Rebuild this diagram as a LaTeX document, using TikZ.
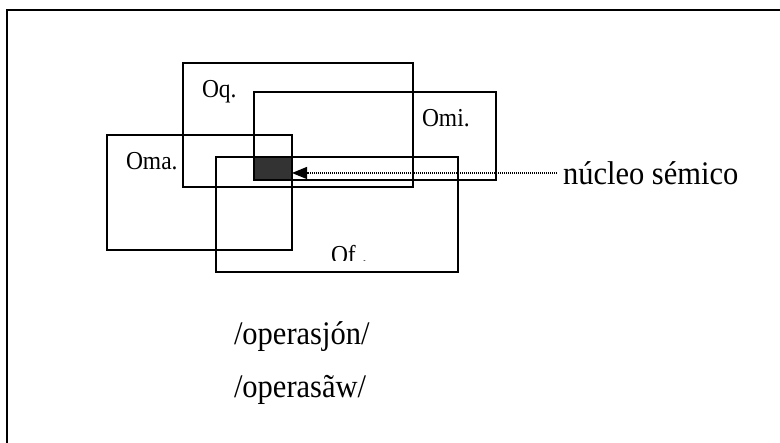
\documentclass[tikz,border=0pt]{standalone}
\usepackage{fontspec}
\setmainfont{Liberation Serif}
\usetikzlibrary{arrows.meta}
\begin{document}
\begin{tikzpicture}[x=1pt,y=-1pt,inner sep=0pt,outer sep=0pt,line width=1.6pt,
semblock/.style={draw,rectangle,inner sep=0pt},
semlabel/.style={anchor=base west,yscale=1.1,font=\fontsize{23.5}{28}\selectfont},
bigtext/.style={yscale=1.08,font=\fontsize{30.5}{36}\selectfont},
pointer/.style={line width=1.2pt,dash pattern=on 1pt off 1pt,-{Triangle[length=15pt,width=12pt]}}]
\useasboundingbox (0,0) rectangle (780,443);
\draw[line width=1.5pt] (7,443) |- (780,10);
\draw (298,125) node[semblock,minimum width=230pt,minimum height=124pt] (oq) {};
\draw (375,136) node[semblock,minimum width=242pt,minimum height=88pt] (omi) {};
\draw (199.5,192.5) node[semblock,minimum width=185pt,minimum height=115pt] (oma) {};
\draw (337,214.5) node[semblock,minimum width=242pt,minimum height=115pt] (of) {};
\draw (273,168.5) node[semblock,fill=black!80,minimum width=38pt,minimum height=23pt] (nucleo) {};
\draw (202,98) node[semlabel] (oqlabel) {Oq.};
\draw (422,127) node[semlabel] (omilabel) {Omi.};
\draw (126,170) node[semlabel] (omalabel) {Oma.};
\begin{scope}
\clip (320,230) rectangle (420,261);
\draw (331,264) node[semlabel] (oflabel) {Of .};
\end{scope}
\draw (563,173) node[bigtext,anchor=west] (semico) {núcleo sémico};
\draw[pointer] ([xshift=-6pt]semico.west) -- (nucleo.east |- semico.west);
\draw (234,345) node[bigtext,anchor=base west] (esp) {/operasjón/};
\draw (234,398) node[bigtext,anchor=base west] (port) {/operasãw/};
\end{tikzpicture}
\end{document}
